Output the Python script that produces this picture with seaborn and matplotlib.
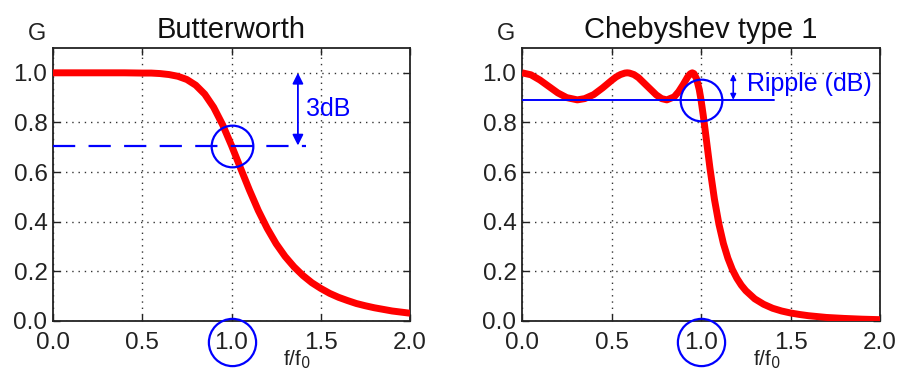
import seaborn as sns
import matplotlib.pyplot as plt

# Butterworth gain
bw_f = [0.0, 0.1, 0.2, 0.3, 0.4, 0.5, 0.55, 0.6, 0.65, 0.7, 0.75, 0.8, 0.85, 0.9, 0.95,
        1.0, 1.05, 1.1, 1.15, 1.2, 1.25, 1.3, 1.35, 1.4, 1.45, 1.5, 1.55, 1.6, 1.65, 1.7,
        1.75, 1.8, 1.9, 2.0]
bw_g = [1.0, 1.0, 1.0, 1.0, 1.0, 0.999, 0.999, 0.997, 0.993, 0.986, 0.973, 0.950, 0.914, 0.861, 0.791,
        0.707, 0.617, 0.528, 0.445, 0.373, 0.311, 0.260, 0.218, 0.183, 0.154, 0.131, 0.111, 0.095, 0.082, 0.070,
        0.061, 0.053, 0.040, 0.031]

# Chebyshev type 1 gain
ch_f = [0.0, 0.05, 0.1, 0.15, 0.2, 0.25, 0.309, 0.35, 0.4, 0.45, 0.5, 0.525, 0.55, 0.575, 0.588,
        0.6, 0.625, 0.65, 0.7, 0.75, 0.78, 0.809, 0.85, 0.875, 0.9, 0.925, 0.94, 0.951, 0.96,
        0.975, 0.99, 1.0, 1.0125, 1.025, 1.05, 1.075, 1.1, 1.125, 1.15, 1.175, 1.2, 1.225, 1.25,
        1.3, 1.35, 1.4, 1.45, 1.5, 1.55, 1.6, 1.7, 1.8, 1.9, 2.0]
ch_g = [1.0, 0.992, 0.971, 0.945, 0.919, 0.900, 0.891, 0.896, 0.912, 0.939, 0.969, 0.983, 0.993, 0.999, 1.0,
        0.999, 0.993, 0.981, 0.946, 0.911, 0.896, 0.891, 0.903, 0.924, 0.952, 0.983, 0.996, 1.0, 0.997,
        0.976, 0.933, 0.891, 0.828, 0.758, 0.615, 0.490, 0.390, 0.312, 0.253, 0.207, 0.172, 0.144, 0.122,
        0.089, 0.067, 0.051, 0.040, 0.032, 0.026, 0.021, 0.014, 0.010, 0.007, 0.005]

cutoff_g = 0.707
ripple_g = 0.891

sns.set_style('ticks')
plt.rcParams['font.family'] = ['Liberation Sans', 'DejaVu Sans']

fig = plt.figure(figsize=(8.98, 3.71), dpi=100)
ax1 = fig.add_axes([0.059, 0.135, 0.3976, 0.7356])
ax2 = fig.add_axes([0.5813, 0.135, 0.3987, 0.7356])

for ax, f, g, title in ((ax1, bw_f, bw_g, 'Butterworth'), (ax2, ch_f, ch_g, 'Chebyshev type 1')):
    sns.lineplot(x=f, y=g, ax=ax, color='red', lw=5, zorder=3,
                 solid_joinstyle='round', solid_capstyle='butt')
    ax.set_xlim(0, 2.0)
    ax.set_ylim(0, 1.1)
    ax.set_xticks([0.0, 0.5, 1.0, 1.5, 2.0])
    ax.set_yticks([0.0, 0.2, 0.4, 0.6, 0.8, 1.0])
    ax.xaxis.set_major_formatter(plt.FormatStrFormatter('%.1f'))
    ax.yaxis.set_major_formatter(plt.FormatStrFormatter('%.1f'))
    ax.tick_params(direction='in', length=5, width=1, top=True, right=True,
                   labelsize=17.5, colors='#222222', pad=4)
    ax.tick_params(axis='x', pad=8)
    ax.grid(True, color='#333333', lw=1, ls=(0, (1, 3.5)))
    for s in ax.spines.values():
        s.set_linewidth(1.3)
        s.set_color('#222222')
    ax.set_title(title, fontsize=21, pad=7, color='#111111')
    ax.text(-0.045, 1.01, 'G', transform=ax.transAxes, fontsize=17, ha='center', va='bottom', color='#222222')
    ax.text(0.645, -0.185, 'f/f$_0$', transform=ax.transAxes, fontsize=15, ha='left', va='bottom',
            color='#222222')
    # circle round the 1.0 tick label
    ax.plot(1.0, -0.083, 'o', ms=34, mfc='none', mec='blue', mew=1.6, clip_on=False, zorder=5)

# Butterworth annotations
ax1.plot([0.0, 1.42], [cutoff_g, cutoff_g], color='blue', lw=1.6, ls=(0, (10, 6)), zorder=4)
ax1.plot(1.0, cutoff_g, 'o', ms=30, mfc='none', mec='blue', mew=1.6, zorder=5)
ax1.annotate('', xy=(1.372, 1.0), xytext=(1.372, cutoff_g),
             arrowprops=dict(arrowstyle='<|-|>', color='blue', lw=1.3, mutation_scale=16,
                             shrinkA=0, shrinkB=0))
ax1.text(1.42, 0.855, '3dB', color='blue', fontsize=18, va='center', ha='left')

# Chebyshev annotations
ax2.plot([0.0, 1.41], [ripple_g, ripple_g], color='blue', lw=1.4, zorder=4)
ax2.plot(1.0, ripple_g, 'o', ms=30, mfc='none', mec='blue', mew=1.6, zorder=5)
ax2.annotate('', xy=(1.18, 0.995), xytext=(1.18, ripple_g),
             arrowprops=dict(arrowstyle='<|-|>', color='blue', lw=1.2, mutation_scale=8,
                             shrinkA=0, shrinkB=0))
ax2.text(1.255, 0.955, 'Ripple (dB)', color='blue', fontsize=18, va='center', ha='left')

fig.savefig('out.png', dpi=100)
